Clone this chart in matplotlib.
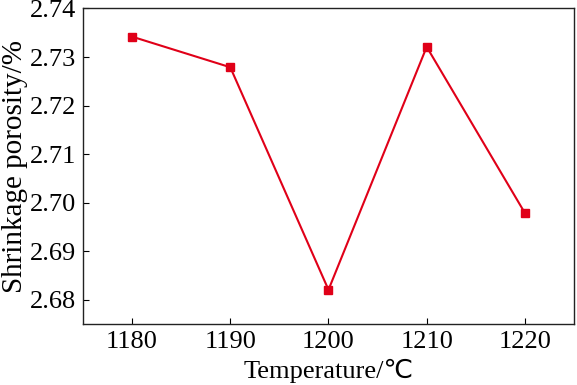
import matplotlib
matplotlib.use("Agg")
import matplotlib.pyplot as plt

temperature = [1180, 1190, 1200, 1210, 1220]
porosity = [2.7342, 2.7279, 2.6821, 2.7321, 2.6979]
xticks = [1180, 1190, 1200, 1210, 1220]
yticks = [2.68, 2.69, 2.70, 2.71, 2.72, 2.73, 2.74]

plt.rcParams['font.family'] = ['Liberation Serif', 'DejaVu Sans']

fig = plt.figure(figsize=(5.77, 3.85), dpi=100)
ax = fig.add_axes([0.1438, 0.1577, 0.851, 0.8203])
ax.plot(temperature, porosity, color='#e00018', linewidth=1.5, marker='s',
        markersize=6, markerfacecolor='#e00018', markeredgecolor='#e00018')
ax.set_xlim(1175, 1225)
ax.set_ylim(2.675, 2.74)
ax.set_xticks(xticks)
ax.set_yticks(yticks)
ax.set_yticklabels([f"{v:.2f}" for v in yticks])
ax.tick_params(direction='in', length=4, width=0.8, labelsize=19, top=False, right=False, pad=5)
for s in ax.spines.values():
    s.set_linewidth(1.0)
    s.set_color('#222222')
ax.set_xlabel('Temperature/℃', fontsize=19, labelpad=4)
ax.set_ylabel('Shrinkage porosity/%', fontsize=21, labelpad=1)
fig.savefig('out.png', dpi=100)
